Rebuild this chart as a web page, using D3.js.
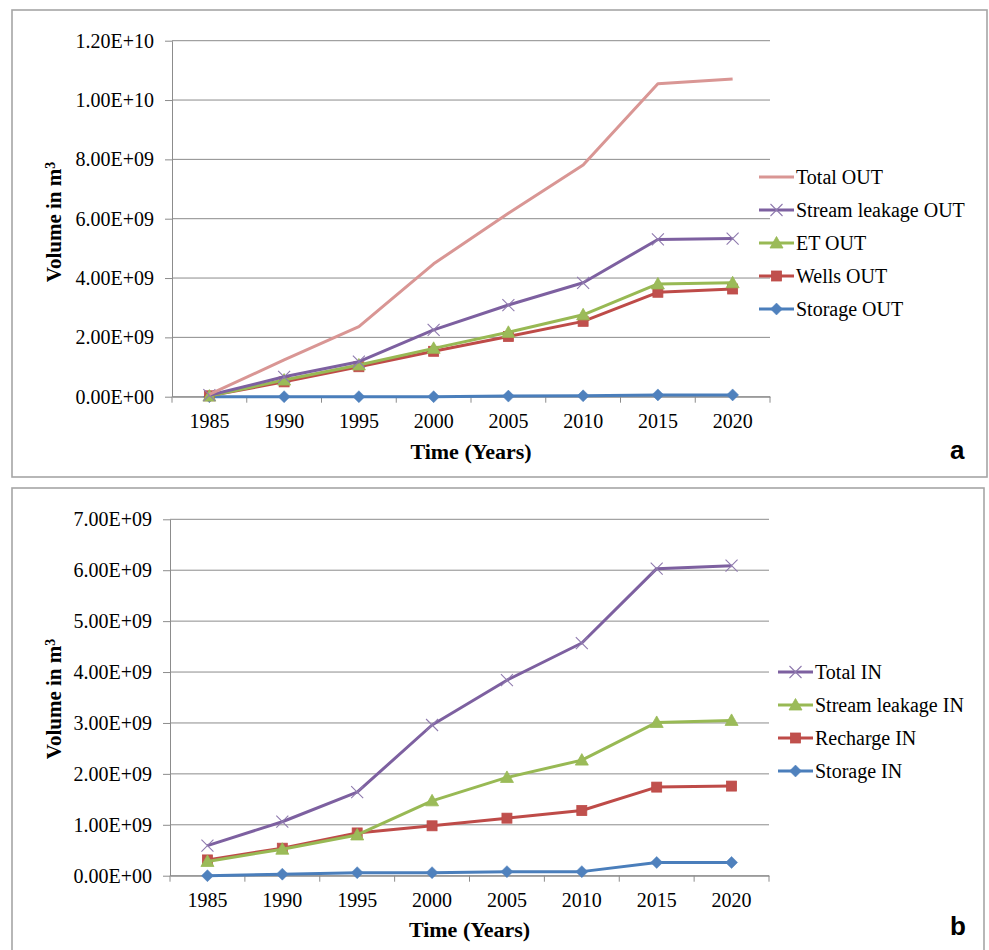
<!DOCTYPE html>
<html>
<head>
<meta charset="utf-8">
<script src="https://cdn.jsdelivr.net/npm/d3@7"></script>
<style>
  body { margin: 0; background: #fff; }
  svg { display: block; }
  svg text { font-family: 'Liberation Serif', 'Times New Roman', serif; }
</style>
</head>
<body>
<svg id="chart" width="989" height="950"></svg>
<script>
// ---------- DATA ----------
const years = ["1985", "1990", "1995", "2000", "2005", "2010", "2015", "2020"];

// Panel a (OUT), m^3
const totalOut         = [0.08e9, 1.24e9, 2.36e9, 4.48e9, 6.18e9, 7.81e9, 10.55e9, 10.71e9];
const streamLeakageOut = [0.05e9, 0.67e9, 1.18e9, 2.25e9, 3.09e9, 3.84e9, 5.30e9, 5.33e9];
const etOut            = [0.02e9, 0.56e9, 1.07e9, 1.63e9, 2.17e9, 2.76e9, 3.80e9, 3.84e9];
const wellsOut         = [0.03e9, 0.50e9, 1.01e9, 1.53e9, 2.03e9, 2.54e9, 3.52e9, 3.63e9];
const storageOut       = [0.00e9, 0.00e9, 0.00e9, 0.00e9, 0.02e9, 0.03e9, 0.06e9, 0.06e9];

// Panel b (IN), m^3
const totalIn          = [0.59e9, 1.06e9, 1.64e9, 2.96e9, 3.84e9, 4.57e9, 6.03e9, 6.09e9];
const streamLeakageIn  = [0.28e9, 0.52e9, 0.80e9, 1.47e9, 1.93e9, 2.27e9, 3.01e9, 3.05e9];
const rechargeIn       = [0.31e9, 0.54e9, 0.84e9, 0.98e9, 1.13e9, 1.28e9, 1.74e9, 1.76e9];
const storageIn        = [0.00e9, 0.03e9, 0.06e9, 0.06e9, 0.08e9, 0.08e9, 0.26e9, 0.26e9];

const yTicksA = [0, 2e9, 4e9, 6e9, 8e9, 10e9, 12e9];
const yTicksB = [0, 1e9, 2e9, 3e9, 4e9, 5e9, 6e9, 7e9];

const xTitle = "Time (Years)";
const yTitle = "Volume in m";

// ---------- STYLES ----------
const C = {
  pink:   { line: "#D99694", mark: "#D99694" },
  purple: { line: "#7D60A0", mark: "#8f7aae" },
  green:  { line: "#98B954", mark: "#9BBB59" },
  red:    { line: "#BE4B48", mark: "#C0504D" },
  blue:   { line: "#4A7EBB", mark: "#4F81BD" }
};
const serif = "'Liberation Serif', 'Times New Roman', serif";

const panels = [
  {
    letter: "a",
    border: { x: 12, y: 10, w: 975, h: 467 },
    plot: { x0: 172, x1: 770, y0: 396.7, y1: 40.7 },
    yMax: 12e9, yTicks: yTicksA,
    yTitleY: 222, xTitleY: 459, letterY: 459,
    legend: { x0: 759, x1: 794, y: 177, dy: 33 },
    series: [
      { name: "Total OUT", values: totalOut, col: C.pink, marker: "none" },
      { name: "Stream leakage OUT", values: streamLeakageOut, col: C.purple, marker: "x" },
      { name: "ET OUT", values: etOut, col: C.green, marker: "triangle" },
      { name: "Wells OUT", values: wellsOut, col: C.red, marker: "square" },
      { name: "Storage OUT", values: storageOut, col: C.blue, marker: "diamond" }
    ]
  },
  {
    letter: "b",
    border: { x: 12, y: 488, w: 972, h: 475 },
    plot: { x0: 170, x1: 769, y0: 875.7, y1: 519.3 },
    yMax: 7e9, yTicks: yTicksB,
    yTitleY: 699, xTitleY: 937, letterY: 935,
    legend: { x0: 778, x1: 813, y: 672, dy: 33 },
    series: [
      { name: "Total IN", values: totalIn, col: C.purple, marker: "x" },
      { name: "Stream leakage IN", values: streamLeakageIn, col: C.green, marker: "triangle" },
      { name: "Recharge IN", values: rechargeIn, col: C.red, marker: "square" },
      { name: "Storage IN", values: storageIn, col: C.blue, marker: "diamond" }
    ]
  }
];

function fmtE(v) {
  if (v === 0) return "0.00E+00";
  const e = Math.floor(Math.log10(v) + 1e-9);
  const m = v / Math.pow(10, e);
  return m.toFixed(2) + "E+" + String(e).padStart(2, "0");
}

const svg = d3.select("#chart");

function drawMarker(g, type, col, cx, cy) {
  if (type === "square") {
    g.append("rect").attr("x", cx - 5).attr("y", cy - 5).attr("width", 10).attr("height", 10)
      .attr("fill", col.mark).attr("stroke", col.line).attr("stroke-width", 0.8);
  } else if (type === "triangle") {
    g.append("path").attr("d", `M${cx},${cy - 6.5}L${cx + 6.5},${cy + 5}L${cx - 6.5},${cy + 5}Z`)
      .attr("fill", col.mark).attr("stroke", col.line).attr("stroke-width", 0.8);
  } else if (type === "diamond") {
    g.append("path").attr("d", `M${cx},${cy - 6}L${cx + 6},${cy}L${cx},${cy + 6}L${cx - 6},${cy}Z`)
      .attr("fill", col.mark).attr("stroke", col.mark).attr("stroke-width", 0.5);
  } else if (type === "x") {
    g.append("path").attr("d", `M${cx - 6},${cy - 6}L${cx + 6},${cy + 6}M${cx + 6},${cy - 6}L${cx - 6},${cy + 6}`)
      .attr("fill", "none").attr("stroke", col.mark).attr("stroke-width", 1.1);
  }
}

panels.forEach(p => {
  const g = svg.append("g");

  // border
  g.append("rect")
    .attr("x", p.border.x).attr("y", p.border.y)
    .attr("width", p.border.w).attr("height", p.border.h)
    .attr("fill", "#fff").attr("stroke", "#a6a6a6").attr("stroke-width", 1.6);

  const x = d3.scaleBand().domain(years).range([p.plot.x0, p.plot.x1]).padding(0);
  const y = d3.scaleLinear().domain([0, p.yMax]).range([p.plot.y0, p.plot.y1]);

  // gridlines
  g.append("g").selectAll("line").data(p.yTicks).join("line")
    .attr("x1", p.plot.x0).attr("x2", p.plot.x1)
    .attr("y1", d => y(d)).attr("y2", d => y(d))
    .attr("stroke", "#8c8c8c").attr("stroke-width", 1);

  // y axis
  const yAxis = g.append("g").attr("transform", `translate(${p.plot.x0},0)`)
    .call(d3.axisLeft(y).tickValues(p.yTicks).tickFormat(fmtE).tickSize(7).tickPadding(11).tickSizeOuter(0));
  yAxis.attr("font-family", serif).attr("font-size", 20);
  yAxis.select(".domain").attr("stroke", "#8c8c8c");
  yAxis.selectAll(".tick line").attr("stroke", "#8c8c8c");
  yAxis.selectAll("text").attr("font-family", serif).attr("font-size", 20).attr("fill", "#000");

  // x axis (labels at band centres)
  const xAxis = g.append("g").attr("transform", `translate(0,${p.plot.y0})`)
    .call(d3.axisBottom(x).tickSize(0).tickPadding(17).tickSizeOuter(0));
  xAxis.attr("font-family", serif).attr("font-size", 20);
  xAxis.select(".domain").attr("stroke", "#8c8c8c");
  xAxis.selectAll("text").attr("font-family", serif).attr("font-size", 20).attr("fill", "#000");

  // x tick marks at band boundaries
  const bounds = years.map(d => x(d)).concat([x(years[years.length - 1]) + x.bandwidth()]);
  g.append("g").selectAll("line").data(bounds).join("line")
    .attr("x1", d => d).attr("x2", d => d)
    .attr("y1", p.plot.y0).attr("y2", p.plot.y0 + 6)
    .attr("stroke", "#8c8c8c").attr("stroke-width", 1);

  // series (draw reversed so first legend entry is on top)
  const line = d3.line().x((d, i) => x(years[i]) + x.bandwidth() / 2).y(d => y(d));
  p.series.slice().reverse().forEach(s => {
    const sg = g.append("g");
    sg.append("path").datum(s.values).attr("d", line)
      .attr("fill", "none").attr("stroke", s.col.line).attr("stroke-width", 3)
      .attr("stroke-linejoin", "round");
    s.values.forEach((v, i) => drawMarker(sg, s.marker, s.col, x(years[i]) + x.bandwidth() / 2, y(v)));
  });

  // legend
  p.series.forEach((s, i) => {
    const ly = p.legend.y + i * p.legend.dy;
    const lg = g.append("g");
    lg.append("line").attr("x1", p.legend.x0).attr("x2", p.legend.x1)
      .attr("y1", ly).attr("y2", ly).attr("stroke", s.col.line).attr("stroke-width", 3);
    drawMarker(lg, s.marker, s.col, (p.legend.x0 + p.legend.x1) / 2, ly);
    lg.append("text").attr("x", p.legend.x1 + 2).attr("y", ly).attr("dy", "0.35em")
      .attr("font-family", serif).attr("font-size", 20).attr("fill", "#000").text(s.name);
  });

  // y title
  const yt = g.append("text")
    .attr("transform", `translate(61,${p.yTitleY}) rotate(-90)`)
    .attr("text-anchor", "middle")
    .attr("font-family", serif).attr("font-size", 21).attr("font-weight", "bold").attr("fill", "#000");
  yt.append("tspan").text(yTitle);
  yt.append("tspan").attr("dy", "-0.45em").attr("font-size", 14).text("3");

  // x title
  g.append("text")
    .attr("x", (p.plot.x0 + p.plot.x1) / 2).attr("y", p.xTitleY)
    .attr("text-anchor", "middle")
    .attr("font-family", serif).attr("font-size", 22).attr("font-weight", "bold").attr("fill", "#000")
    .text(xTitle);

  // panel letter
  g.append("text")
    .attr("x", 950).attr("y", p.letterY)
    .attr("font-family", "'Liberation Sans', Arial, sans-serif")
    .style("font-family", "'Liberation Sans', Arial, sans-serif")
    .attr("font-size", 26)
    .attr("font-weight", "bold").attr("fill", "#000")
    .text(p.letter);
});
</script>
</body>
</html>
